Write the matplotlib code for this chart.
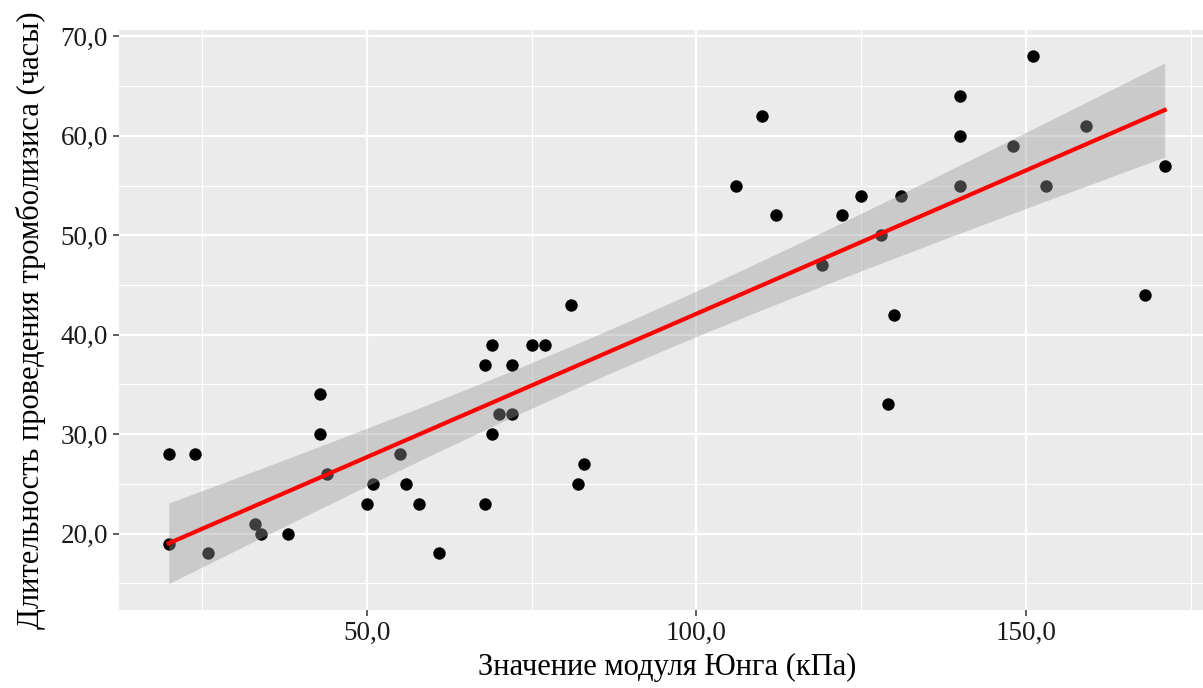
import numpy as np
import matplotlib
matplotlib.use("Agg")
import matplotlib.pyplot as plt
from matplotlib.ticker import FixedLocator, FuncFormatter

plt.rcParams['font.family'] = ['Liberation Serif', 'DejaVu Serif']

# Young's modulus (kPa)
young = [20, 20, 24, 26, 33, 34, 38, 43, 43, 44, 50, 51, 55, 56, 58, 61,
         81, 69, 75, 77, 68, 72, 70, 72, 69, 83, 82, 68,
         110, 106, 112, 122, 125, 131, 128, 119, 130, 129,
         140, 140, 140, 148, 151, 153, 159, 168, 171]
# Thrombolysis duration (hours)
hours = [19, 28, 28, 18, 21, 20, 20, 34, 30, 26, 23, 25, 28, 25, 23, 18,
         43, 39, 39, 39, 37, 37, 32, 32, 30, 27, 25, 23,
         62, 55, 52, 52, 54, 54, 50, 47, 42, 33,
         64, 60, 55, 59, 68, 55, 61, 44, 57]

x_major = [50, 100, 150]
x_minor = [25, 75, 125, 175]
y_major = [20, 30, 40, 50, 60, 70]
y_minor = [15, 25, 35, 45, 55, 65]

x = np.array(young, dtype=float)
y = np.array(hours, dtype=float)

# linear fit with 95% confidence band (as geom_smooth(method="lm"))
n = len(x)
b1, b0 = np.polyfit(x, y, 1)
xs = np.linspace(x.min(), x.max(), 80)
ys = b0 + b1 * xs
resid = y - (b0 + b1 * x)
s = np.sqrt(np.sum(resid ** 2) / (n - 2))
sxx = np.sum((x - x.mean()) ** 2)
se = s * np.sqrt(1.0 / n + (xs - x.mean()) ** 2 / sxx)
tq = 2.0141  # t(0.975, df=45)
lo, hi = ys - tq * se, ys + tq * se

W, H = 1203, 688
fig = plt.figure(figsize=(W / 100, H / 100), dpi=100)
ax = fig.add_axes([119 / W, (H - 610) / H, (1214.5 - 119) / W, 580 / H])
ax.set_facecolor('#EBEBEB')

ax.scatter(x, y, s=80, color='black', linewidths=0, zorder=2)
ax.fill_between(xs, lo, hi, color='#999999', alpha=0.4, linewidth=0, zorder=3)
ax.plot(xs, ys, color='#FF0000', lw=3, zorder=4)

xr = x.max() - x.min()
ax.set_xlim(x.min() - 0.05 * xr, x.max() + 0.05 * xr)
ymin = min(y.min(), lo.min())
ymax = max(y.max(), hi.max())
yr = ymax - ymin
ax.set_ylim(ymin - 0.05 * yr, ymax + 0.05 * yr)

ax.xaxis.set_major_locator(FixedLocator(x_major))
ax.xaxis.set_minor_locator(FixedLocator(x_minor))
ax.yaxis.set_major_locator(FixedLocator(y_major))
ax.yaxis.set_minor_locator(FixedLocator(y_minor))
fmt = FuncFormatter(lambda v, p: f"{v:.1f}".replace('.', ','))
ax.xaxis.set_major_formatter(fmt)
ax.yaxis.set_major_formatter(fmt)

ax.grid(which='major', color='white', lw=1.6, zorder=0)
ax.grid(which='minor', color='white', lw=0.8, zorder=0)
ax.set_axisbelow(True)
for sp in ax.spines.values():
    sp.set_visible(False)

ax.tick_params(which='major', length=4, width=1.1, color='#333333',
               labelsize=19.5, labelcolor='#1a1a1a', pad=4)
ax.tick_params(which='minor', length=0)

ax.set_xlabel('Значение модуля Юнга (кПа)', fontsize=22, color='black', labelpad=5)
ax.set_ylabel('Длительность проведения тромболизиса (часы)', fontsize=22,
              color='black', labelpad=10)

fig.savefig('out.png', dpi=100, facecolor='white')
